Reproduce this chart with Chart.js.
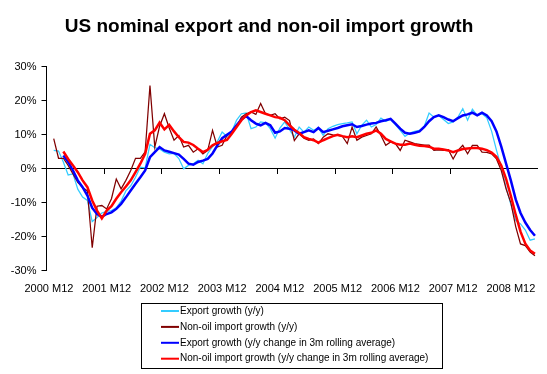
<!DOCTYPE html>
<html>
<head>
<meta charset="utf-8">
<script src="https://cdn.jsdelivr.net/npm/chart.js@4.4.1/dist/chart.umd.min.js"></script>
<style>
html,body{margin:0;padding:0;background:#fff;}
#wrap{width:547px;height:374px;position:relative;}
</style>
</head>
<body>
<div id="wrap"><canvas id="c" width="547" height="374"></canvas></div>
<script>
const chartTitle = 'US nominal export and non-oil import growth';

// Categories: monthly, 2000 M12 .. 2009 M05
const categories = ['2000 M12'];
for (let y = 2001; y <= 2009; y++) {
  for (let m = 1; m <= 12; m++) {
    if (y === 2009 && m > 5) break;
    categories.push(y + ' M' + String(m).padStart(2, '0'));
  }
}

const tickLabels = ['2000 M12','2001 M12','2002 M12','2003 M12','2004 M12','2005 M12','2006 M12','2007 M12','2008 M12'];

const seriesNames = [
  'Export growth (y/y)',
  'Non-oil import growth (y/y)',
  'Export growth (y/y change in 3m rolling average)',
  'Non-oil import growth (y/y change in 3m rolling average)'
];

// Export growth (y/y), %
const exportYY = [null, 5.4, 5.2, 2.0, -1.8, -1.5, -6.0, -8.3, -9.3, -15.5, -14.3, -13.0, -12.5,
 -12.3, -11.5, -9.5, -6.5, -5.0, -2.5, 0.5, 0.3, 7.2, 6.2, 5.8, 4.9,
 4.4, 4.5, 3.0, 0.0, 1.0, 1.5, 2.5, 1.5, 4.5, 6.5, 8.0, 10.8,
 9.5, 11.0, 14.3, 16.2, 16.4, 11.8, 12.3, 13.8, 13.5, 11.8, 9.0, 12.0,
 13.8, 11.5, 9.3, 12.3, 10.8, 12.3, 11.3, 12.0, 9.8, 11.8, 12.5, 13.0,
 13.3, 13.5, 13.8, 10.3, 12.8, 14.3, 12.3, 13.0, 14.9, 14.0, 14.5, 13.0,
 11.3, 9.5, 10.5, 11.0, 11.3, 12.5, 16.4, 15.2, 15.7, 14.5, 13.3, 13.8,
 15.2, 17.7, 14.3, 17.5, 15.7, 16.2, 15.0, 11.0, 5.5, 0.5, -5.5, -10.5,
 -15.2, -16.2, -18.0, -21.0, -20.6];

// Non-oil import growth (y/y), %
const importYY = [null, 8.85, 3.1, 3.1, 1.0, -1.5, -4.0, -5.5, -6.5, -23.2, -11.0, -10.8, -11.8,
 -8.8, -3.0, -5.9, -3.4, -0.5, 3.1, 3.1, 5.0, 24.5, 6.4, 12.5, 16.2,
 12.0, 8.4, 9.8, 6.4, 6.9, 4.9, 5.9, 4.4, 5.4, 11.3, 6.4, 6.9,
 9.8, 10.8, 12.3, 15.2, 16.2, 16.7, 16.0, 19.2, 16.2, 15.7, 16.2, 14.7,
 15.2, 14.2, 8.3, 10.3, 9.0, 8.4, 8.8, 7.4, 9.3, 10.3, 10.0, 9.8,
 9.5, 7.4, 12.3, 8.4, 9.3, 9.8, 10.3, 12.3, 9.8, 6.9, 7.9, 7.4,
 5.4, 8.4, 7.9, 7.4, 7.2, 7.0, 7.0, 5.4, 5.6, 5.4, 5.6, 2.9,
 5.4, 6.9, 4.4, 6.9, 6.9, 4.9, 4.8, 4.4, 2.9, -0.5, -5.9, -10.0,
 -17.0, -22.1, -22.6, -24.5, -25.6];

// Export growth (y/y change in 3m rolling average), %
const exportAvg = [null, null, null, 3.9, 2.0, -0.5, -3.4, -5.4, -7.9, -11.5, -13.3, -14.1, -13.3,
 -12.8, -11.8, -10.3, -8.4, -6.4, -4.4, -2.5, -0.5, 3.4, 4.9, 6.4, 5.4,
 5.0, 4.6, 4.2, 2.9, 1.5, 1.2, 2.0, 2.4, 2.9, 4.5, 6.9, 9.0,
 10.0, 11.0, 12.8, 14.5, 15.5, 14.3, 13.3, 12.8, 13.5, 12.8, 10.6, 11.0,
 12.0, 11.8, 11.3, 10.3, 10.8, 11.3, 10.8, 12.0, 10.8, 11.2, 11.6, 12.0,
 12.5, 12.8, 13.1, 12.3, 12.6, 13.0, 13.3, 13.5, 14.0, 14.3, 14.7, 13.3,
 11.8, 10.6, 10.3, 10.6, 11.0, 12.3, 14.0, 15.2, 15.7, 15.2, 14.5, 14.0,
 14.9, 15.7, 16.0, 16.5, 15.7, 16.5, 15.7, 14.0, 11.0, 6.5, 1.5, -3.5,
 -9.0, -13.0, -15.8, -18.0, -19.7];

// Non-oil import growth (y/y change in 3m rolling average), %
const importAvg = [null, null, null, 5.1, 2.9, 1.0, -1.0, -3.4, -5.4, -9.3, -12.3, -14.6, -12.3,
 -11.0, -8.8, -6.9, -5.2, -3.4, -1.0, 1.5, 4.4, 10.3, 11.3, 13.6, 11.6,
 12.9, 11.0, 9.3, 7.9, 7.7, 7.0, 5.9, 4.9, 5.6, 6.9, 7.6, 8.1,
 8.5, 10.3, 12.3, 14.3, 15.7, 16.7, 17.2, 16.7, 16.2, 15.7, 15.2, 15.0,
 14.3, 12.8, 11.5, 10.5, 9.3, 8.8, 8.4, 7.7, 8.4, 9.0, 9.6, 10.0,
 9.6, 9.3, 9.6, 9.3, 9.8, 10.3, 10.6, 11.3, 10.3, 8.8, 8.1, 7.4,
 7.1, 7.1, 7.4, 7.1, 6.8, 6.7, 6.5, 5.9, 5.9, 5.7, 5.4, 4.9,
 5.4, 5.8, 6.0, 6.1, 6.1, 5.9, 5.5, 4.8, 3.5, 1.0, -3.0, -8.0,
 -13.5, -18.5, -22.0, -24.0, -25.0];

const FONT = '"Liberation Sans", Arial, Helvetica, sans-serif';
Chart.defaults.font.family = FONT;
Chart.defaults.color = '#000';

const boxLegend = {
  id: 'boxLegend',
  afterDraw(chart, args, o) {
    const ctx = chart.ctx;
    ctx.save();
    ctx.strokeStyle = '#000';
    ctx.lineWidth = 1;
    ctx.strokeRect(o.x + 0.5, o.y + 0.5, o.w, o.h);
    ctx.font = o.fontSize + 'px ' + FONT;
    ctx.textBaseline = 'middle';
    ctx.textAlign = 'left';
    chart.data.datasets.forEach((ds, k) => {
      const yy = o.y + o.first + k * o.step;
      ctx.strokeStyle = ds.borderColor;
      ctx.lineWidth = 2;
      ctx.beginPath();
      ctx.moveTo(o.lineX0, yy);
      ctx.lineTo(o.lineX1, yy);
      ctx.stroke();
      ctx.fillStyle = '#000';
      ctx.fillText(ds.label, o.textX, yy);
    });
    ctx.restore();
  }
};

const colors = ['#33CCFF', '#800000', '#0000FF', '#FF0000'];
const series = [exportYY, importYY, exportAvg, importAvg];
const widths = [1.25, 1.25, 2.5, 2.5];
const orders = [3, 2, 1, 0];

new Chart(document.getElementById('c'), {
  type: 'line',
  data: {
    labels: categories,
    datasets: series.map((d, k) => ({
      label: seriesNames[k],
      data: d,
      borderColor: colors[k],
      backgroundColor: colors[k],
      borderWidth: widths[k],
      pointRadius: 0,
      tension: 0,
      fill: false,
      order: orders[k],
      xAxisID: 'x',
      yAxisID: 'y'
    }))
  },
  plugins: [boxLegend],
  options: {
    responsive: false,
    animation: false,
    layout: { padding: { left: 0, right: 9, top: 0, bottom: 66 } },
    plugins: {
      legend: { display: false },
      tooltip: { enabled: false },
      title: {
        display: true,
        text: chartTitle,
        color: '#000',
        font: { size: 19, weight: 'bold', family: FONT },
        padding: { top: 15, bottom: 29 }
      },
      boxLegend: { x: 141, y: 303, w: 301, h: 65, first: 8, step: 15.9, lineX0: 161, lineX1: 179, textX: 180, fontSize: 10 }
    },
    scales: {
      x: {
        type: 'category',
        position: { y: 0 },
        offset: true,
        grid: {
          display: true,
          offset: true,
          drawOnChartArea: false,
          drawTicks: true,
          tickLength: 5,
          color: (c) => (c.index % 12 === 0 ? '#000' : 'rgba(0,0,0,0)')
        },
        border: { display: true, color: '#000', width: 1 },
        ticks: { display: false, autoSkip: false }
      },
      x2: {
        type: 'category',
        position: 'bottom',
        offset: true,
        grid: { display: false, drawTicks: false },
        border: { display: false },
        ticks: {
          autoSkip: false,
          maxRotation: 0,
          minRotation: 0,
          padding: 12,
          color: '#000',
          font: { size: 11, family: FONT },
          callback: function (val, idx) {
            const lab = categories[idx];
            return tickLabels.includes(lab) ? lab : '';
          }
        }
      },
      y: {
        type: 'linear',
        position: 'left',
        min: -30,
        max: 30,
        afterFit: (s) => { s.width = 46.5; },
        grid: { display: true, drawOnChartArea: false, drawTicks: true, tickLength: 5, color: '#000' },
        border: { display: true, color: '#000', width: 1 },
        ticks: {
          stepSize: 10,
          padding: 5,
          color: '#000',
          font: { size: 11, family: FONT },
          callback: (v) => v + '%'
        }
      }
    }
  }
});
</script>
</body>
</html>
